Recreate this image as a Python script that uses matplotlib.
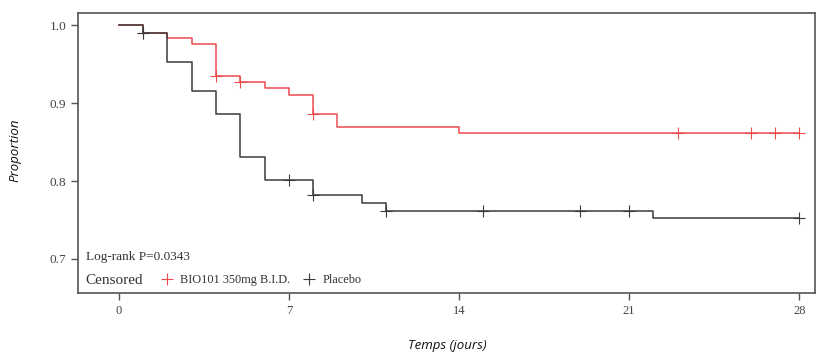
import numpy as np
import matplotlib
matplotlib.use('Agg')
import matplotlib.pyplot as plt
from matplotlib.lines import Line2D

# Kaplan-Meier steps (time in days, survival after the step)
bio_times = [0, 1, 2, 3, 4, 5, 6, 7, 8, 9, 14]
bio_surv = [1.0, 0.990, 0.983, 0.976, 0.935, 0.927, 0.919, 0.910, 0.886, 0.869, 0.861]
bio_censor = [1, 4, 5, 8, 23, 26, 27, 28]

pla_times = [0, 1, 2, 3, 4, 5, 6, 8, 10, 11, 22]
pla_surv = [1.0, 0.990, 0.952, 0.915, 0.886, 0.831, 0.801, 0.782, 0.772, 0.762, 0.752]
pla_censor = [1, 7, 8, 11, 15, 19, 21, 28]

end_day = 28
xticks = [0, 7, 14, 21, 28]
yticks = [0.7, 0.8, 0.9, 1.0]

red = '#ee4a50'
dark = '#3a3a3a'
frame = '#555555'


def surv_at(times, surv, t):
    idx = np.searchsorted(times, t, side='right') - 1
    return surv[idx]


fig = plt.figure(figsize=(8.16, 3.55), dpi=100)
ax = fig.add_axes([0.0956, 0.1738, 0.9032, 0.7904])

for times, surv, cens, col in [(bio_times, bio_surv, bio_censor, red),
                               (pla_times, pla_surv, pla_censor, dark)]:
    x = list(times) + [end_day]
    y = list(surv) + [surv[-1]]
    ax.step(x, y, where='post', color=col, lw=1.1)
    cy = [surv_at(times, surv, c) for c in cens]
    ax.plot(cens, cy, ls='none', marker='+', ms=8, mew=0.8, color=col)

ax.set_xlim(-1.675, 28.65)
ax.set_ylim(0.656, 1.0158)
ax.set_xticks(xticks)
ax.set_yticks(yticks)
ax.set_yticklabels(['0.7', '0.8', '0.9', '1.0'])
ax.tick_params(direction='out', length=5, width=1, color=frame, labelcolor='#444444',
               labelsize=9)
ax.tick_params(axis='y', labelsize=9.5)
for lab in ax.get_xticklabels() + ax.get_yticklabels():
    lab.set_family('Liberation Serif')
for s in ax.spines.values():
    s.set_color(frame)
    s.set_linewidth(1.2)

ax.text(0.0104, 0.129, 'Log-rank P=0.0343', transform=ax.transAxes, va='center', ha='left',
        family='Liberation Serif', fontsize=9.5, color='#333333')
ax.text(0.0104, 0.047, 'Censored', transform=ax.transAxes, va='center', ha='left',
        family='Liberation Serif', fontsize=11, color='#333333')
handles = [Line2D([], [], ls='none', marker='+', ms=9, mew=0.8, color=red),
           Line2D([], [], ls='none', marker='+', ms=9, mew=0.8, color=dark)]
leg = ax.legend(handles, ['BIO101 350mg B.I.D.', 'Placebo'], ncol=2, frameon=False,
                loc='center left', bbox_to_anchor=(0.1125, 0.047), borderpad=0,
                borderaxespad=0, handlelength=1, handletextpad=0.58, columnspacing=1.06,
                prop={'family': 'Liberation Serif', 'size': 8.8})
for t in leg.get_texts():
    t.set_color('#333333')

fig.text(447 / 816, 1 - 345 / 355, 'Temps (jours)', ha='center', va='center',
         family='Open Sans', style='italic', fontsize=9.5, color='#111111')
fig.text(15 / 816, 1 - 150 / 355, 'Proportion', ha='center', va='center', rotation=90,
         family='Open Sans', style='italic', fontsize=9.5, color='#111111')

fig.savefig('out.png', dpi=100)
